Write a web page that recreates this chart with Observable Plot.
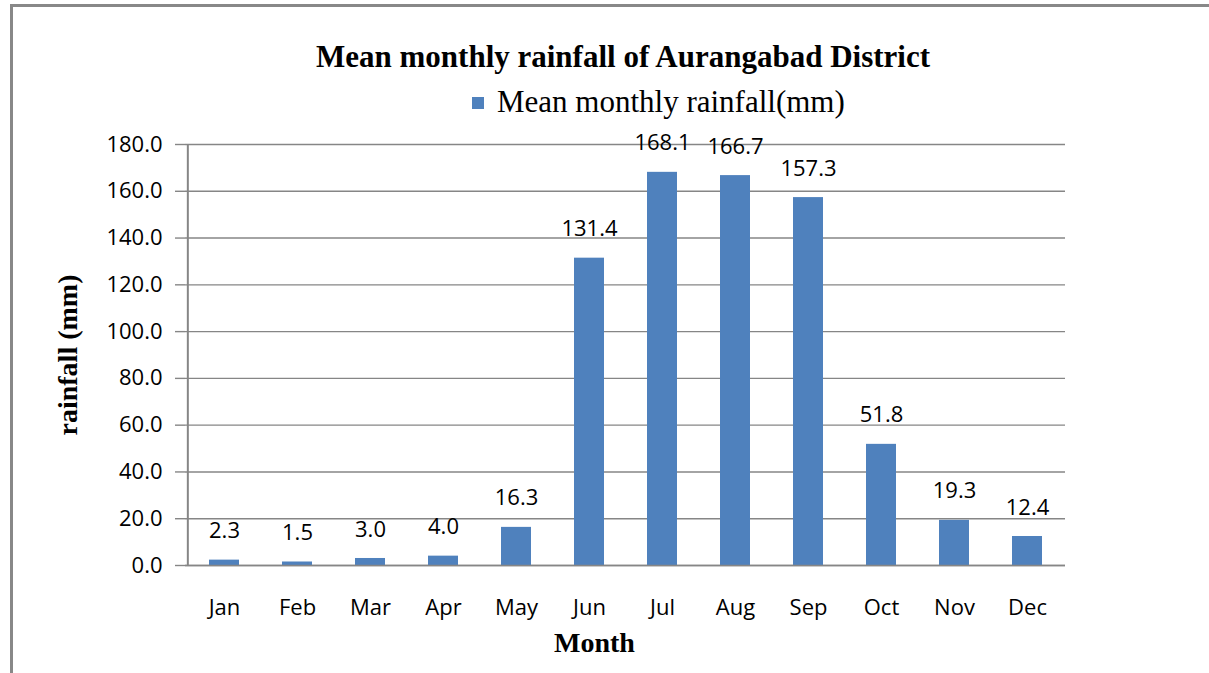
<!DOCTYPE html>
<html>
<head>
<meta charset="utf-8">
<script src="https://cdn.jsdelivr.net/npm/d3@7"></script>
<script src="https://cdn.jsdelivr.net/npm/@observablehq/plot@0.6"></script>
<style>
  html, body { margin: 0; padding: 0; background: #fff; }
  #wrap { position: relative; width: 1209px; height: 673px; overflow: hidden; }
  #frame { position: absolute; left: 10px; top: 4px; width: 1300px; height: 800px;
           border-left: 3px solid #888; border-top: 3px solid #888; }
  #title { position: absolute; left: 0; width: 1246px; top: 39px; text-align: center;
           font-family: "Liberation Serif", serif; font-weight: bold; font-size: 31px; color: #000; }
  #legend { position: absolute; left: 472px; top: 84px; font-family: "Liberation Serif", serif;
            font-size: 31px; color: #000; white-space: nowrap; }
  #legend .sw { display: inline-block; width: 12px; height: 12px; background: #4f81bd;
                margin-right: 13px; vertical-align: 3px; }
  #chart { position: absolute; left: 0; top: 120px; }
</style>
</head>
<body>
<div id="wrap">
  <div id="frame"></div>
  <div id="title">Mean monthly rainfall of Aurangabad District</div>
  <div id="legend"><span class="sw"></span>Mean monthly rainfall(mm)</div>
  <div id="chart"></div>
</div>
<script>
const months = ["Jan","Feb","Mar","Apr","May","Jun","Jul","Aug","Sep","Oct","Nov","Dec"];
const rainfall = [2.3, 1.5, 3.0, 4.0, 16.3, 131.4, 168.1, 166.7, 157.3, 51.8, 19.3, 12.4];
const yTicks = [0, 20, 40, 60, 80, 100, 120, 140, 160, 180];

const data = months.map((m, i) => ({month: m, value: rainfall[i]}));
const fmt = d3.format(".1f");
const sans = "'Open Sans', sans-serif";
const serif = "'Liberation Serif', serif";

const W = 1209, ML = 185, MR = 144;
const step = (W - ML - MR) / months.length;

const chart = Plot.plot({
  width: W,
  height: 553,
  marginLeft: ML,
  marginRight: MR,
  marginTop: 24,
  marginBottom: 108,
  style: {fontFamily: sans, fontSize: "22px", color: "#000", background: "transparent"},
  x: {domain: months, paddingInner: 0.59, paddingOuter: 0.295, label: null},
  y: {domain: [0, 180], label: null},
  marks: [
    Plot.gridY(yTicks, {stroke: "#868686", strokeOpacity: 1, strokeWidth: 1.4}),
    Plot.barY(data, {x: "month", y: "value", fill: "#4f81bd"}),
    Plot.ruleY([0], {stroke: "#868686", strokeWidth: 1.6}),
    Plot.ruleX([months[0]], {stroke: "#868686", strokeWidth: 2, dx: -step / 2}),
    Plot.axisY(yTicks, {tickFormat: fmt, tickSize: 10, tickPadding: 13, stroke: "#868686", strokeWidth: 1.4, fontSize: 22, fontFamily: sans, label: null}),
    Plot.axisX({tickSize: 0, tickPadding: 34, fontSize: 22, fontFamily: sans, label: null}),
    Plot.text(data, {x: "month", y: "value", text: d => fmt(d.value), dy: -29, fontSize: 22, fontFamily: sans, fill: "#000"}),
    Plot.text(["rainfall (mm)"], {frameAnchor: "left", textAnchor: "middle", rotate: -90, dx: -117, fontSize: 28, fontWeight: "bold", fontFamily: serif, fill: "#000"}),
    Plot.text(["Month"], {frameAnchor: "bottom", dx: -31, dy: 86, fontSize: 28, fontWeight: "bold", fontFamily: serif, fill: "#000"})
  ]
});
document.getElementById("chart").appendChild(chart);
</script>
</body>
</html>
